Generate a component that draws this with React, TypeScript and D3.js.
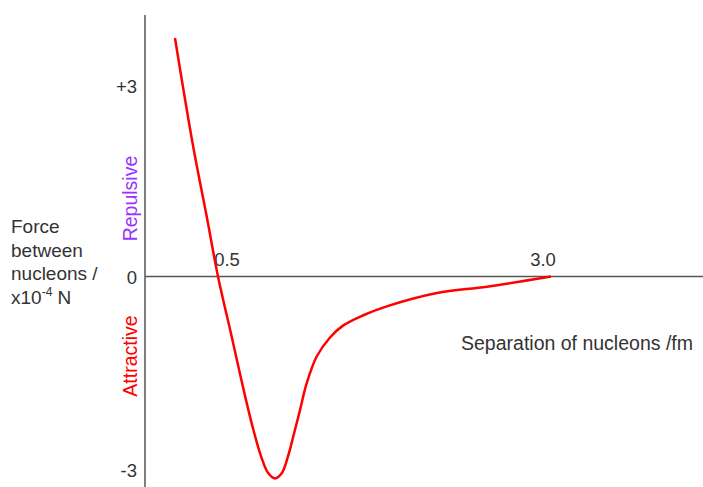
import React from 'react';
import * as d3 from 'd3';

// separation (fm) and force (x10^-4 N)
const separation = [0.177, 0.315, 0.415, 0.5, 0.603, 0.652, 0.703, 0.765, 0.828, 0.878, 0.928, 0.978, 1.03, 1.065, 1.116, 1.166, 1.241, 1.341, 1.441, 1.591, 1.767, 2.144, 2.52, 3.0];
const force = [3.756, 2.03, 0.95, 0, -0.948, -1.41, -1.88, -2.41, -2.86, -3.1, -3.18, -3.1, -2.8, -2.52, -2.1, -1.68, -1.26, -0.96, -0.77, -0.61, -0.47, -0.26, -0.16, 0];
const xTicks = [0.5, 3.0];
const yTicks = [3, 0, -3];
const yTickLabels = ['+3', '0', '-3'];

const W = 703;
const H = 487;
const axisX = 145;

const x = d3.scaleLinear().domain([0.5, 3.0]).range([218, 551]);
const y = d3.scaleLinear().domain([-3, 3]).range([467, 86]);

const font = '"Liberation Sans", Arial, sans-serif';
const textColor = '#333';

export default function App() {
  const pts: [number, number][] = separation.map((s, i) => [s, force[i]]);
  const line = d3.line<[number, number]>()
    .x(d => x(d[0]))
    .y(d => y(d[1]))
    .curve(d3.curveCatmullRom.alpha(0.5));

  return (
    <svg width={W} height={H} style={{ position: 'absolute', left: 0, top: 0 }} fontFamily={font}>
      <rect width={W} height={H} fill="#fff" />
      {/* axes */}
      <line x1={axisX} x2={axisX} y1={15} y2={H} stroke="#555" strokeWidth={1.5} />
      <line x1={axisX} x2={W} y1={y(0)} y2={y(0)} stroke="#555" strokeWidth={1.5} />

      {yTicks.map((t, i) => (
        <text key={t} x={137} y={y(t) + 7 + (t < 0 ? 3 : 0)} textAnchor="end" fontSize={18.5} fill={textColor}>{yTickLabels[i]}</text>
      ))}
      {xTicks.map(t => (
        <text key={t} x={x(t) + (t === 0.5 ? 9 : -8)} y={266} textAnchor="middle" fontSize={18.5} fill={textColor}>{t.toFixed(1)}</text>
      ))}

      <path d={line(pts) ?? ''} fill="none" stroke="#ff0000" strokeWidth={2.5} strokeLinejoin="round" />

      <text x={130} y={198.5} transform="rotate(-90 130 198.5)" textAnchor="middle" dy="0.35em" fontSize={19.5} fill="#9933ff">Repulsive</text>
      <text x={130} y={356} transform="rotate(-90 130 356)" textAnchor="middle" dy="0.35em" fontSize={19.5} fill="#ff0000">Attractive</text>

      <text x={461} y={350} fontSize={19.5} fill={textColor}>Separation of nucleons /fm</text>

      <g fontSize={19} fill={textColor}>
        <text x={11} y={233}>Force</text>
        <text x={11} y={257}>between</text>
        <text x={11} y={280}>nucleons /</text>
        <text x={11} y={304}>x10<tspan fontSize={12} dy={-8}>-4</tspan><tspan dy={8}> N</tspan></text>
      </g>
    </svg>
  );
}
